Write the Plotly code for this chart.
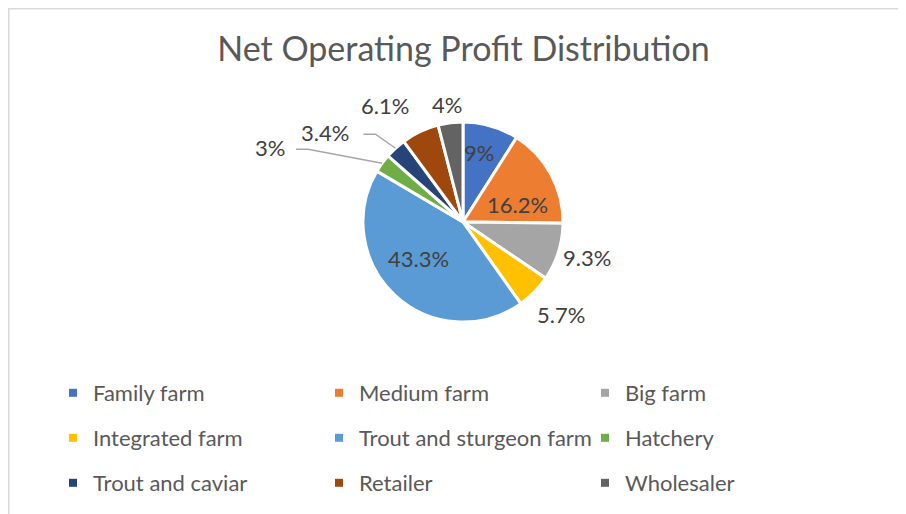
import math
import plotly.graph_objects as go

# ---- data ----
categories = ["Family farm", "Medium farm", "Big farm", "Integrated farm",
              "Trout and sturgeon farm", "Hatchery", "Trout and caviar",
              "Retailer", "Wholesaler"]
values = [9, 16.2, 9.3, 5.7, 43.3, 3, 3.4, 6.1, 4]
label_text = ["9%", "16.2%", "9.3%", "5.7%", "43.3%", "3%", "3.4%", "6.1%", "4%"]

# ---- style ----
colors = ["#4472C4", "#ED7D31", "#A5A5A5", "#FFC000", "#5B9BD5",
          "#70AD47", "#264478", "#9E480E", "#636363"]
W, H = 906, 514
FONT = "Lato"
# pie placement (pixels, figure coordinates)
CX, CY, R = 455, 214, 100
# label placement: (mode, radius factor, pixel dx, pixel dy)
label_place = [("in", 0.72, -4, 0), ("in", 0.57, 4, 10), ("out", 1.3, 0, -4),
               ("out", 1.35, 2, -2), ("in", 0.6, -4, -8),
               ("line", 1.0, -112, -16), ("line", 1.0, -70, -16),
               ("out", 1.35, -20, 5), ("out", 1.18, -1, 0)]
# leader line: gap from label centre to line start, length of horizontal run
leader_style = {5: (26, 12), 6: (38, 12)}

fig = go.Figure()
fig.add_trace(go.Pie(
    labels=categories, values=values, sort=False, direction="clockwise",
    rotation=0, textinfo="none", hoverinfo="label+percent",
    marker=dict(colors=colors, line=dict(color="white", width=3)),
    domain=dict(x=[(CX - R) / W, (CX + R) / W],
                y=[1 - (CY + R) / H, 1 - (CY - R) / H]),
    showlegend=False,
))

# labels computed from the data's cumulative angles
total = sum(values)
cum = 0.0
annotations = []
shapes = []
lab_font = dict(family=FONT, size=22, color="#404040")


def pp(x, y):
    return f"{x / W:.5f},{1 - y / H:.5f}"


for i, v in enumerate(values):
    mid = (cum + v / 2) / total * 2 * math.pi
    cum += v
    mode, rf, dx, dy = label_place[i]
    px = CX + rf * R * math.sin(mid)
    py = CY - rf * R * math.cos(mid)
    lx, ly = px + dx, py + dy
    annotations.append(dict(
        x=lx / W, y=1 - ly / H, xref="paper", yref="paper",
        xanchor="center", yanchor="middle",
        text=label_text[i], showarrow=False, font=lab_font))
    if mode == "line":
        gap, run = leader_style[i]
        sx, sy = lx + gap, ly + 2
        shapes.append(dict(
            type="path", xref="paper", yref="paper",
            path=f"M{pp(sx, sy)} L{pp(sx + run, sy)} L{pp(px, py)}",
            line=dict(color="#A6A6A6", width=1.5)))

# legend entries (three rows)
rows = [0, 0, 0, 1, 1, 1, 2, 2, 2]
legend_names = ["legend", "legend2", "legend3"]
for i, name in enumerate(categories):
    fig.add_trace(go.Scatter(
        x=[None], y=[None], mode="markers", name=name,
        marker=dict(symbol="square", size=8, color=colors[i]),
        legend=legend_names[rows[i]], showlegend=True, hoverinfo="skip"))

row_y = [385, 430, 475]
leg_common = dict(orientation="h", entrywidth=221, entrywidthmode="pixels",
                  x=45 / W, xanchor="left", yanchor="middle",
                  font=dict(family=FONT, size=22, color="#595959"),
                  bgcolor="rgba(0,0,0,0)", itemclick=False)

shapes.append(dict(type="rect", xref="paper", yref="paper",
                   x0=0.75 / W, y0=-0.05, x1=1.05, y1=1 - 0.75 / H,
                   line=dict(color="#D9D9D9", width=1.5)))

fig.update_layout(
    width=W, height=H,
    margin=dict(l=0, r=0, t=0, b=0),
    paper_bgcolor="white", plot_bgcolor="white",
    title=dict(text="Net Operating Profit Distribution", x=455.5 / W, xanchor="center",
               y=1 - 41 / H, yanchor="middle",
               font=dict(family=FONT, size=34, color="#595959")),
    xaxis=dict(visible=False), yaxis=dict(visible=False),
    annotations=annotations,
    legend=dict(y=1 - row_y[0] / H, **leg_common),
    legend2=dict(y=1 - row_y[1] / H, **leg_common),
    legend3=dict(y=1 - row_y[2] / H, **leg_common),
    shapes=shapes,
)

fig.write_html("out.html")
